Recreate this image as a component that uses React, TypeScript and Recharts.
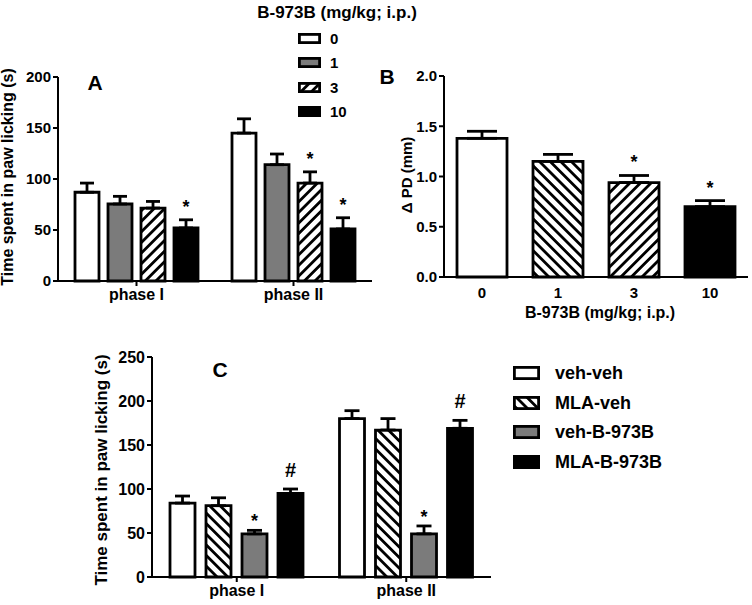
import React from 'react';
import { BarChart, Bar, XAxis, YAxis, ErrorBar, Legend, LabelList, Cell } from 'recharts';

const FONT = '"Liberation Sans", Arial, Helvetica, sans-serif';

// ---------- Panel A ----------
const phasesA = ['phase I', 'phase II'];
const doseNamesA = ['0', '1', '3', '10'];
const a0 = [87, 145];
const a0Err = [9, 14];
const a1 = [75.5, 114];
const a1Err = [7.5, 10.5];
const a3 = [71.5, 96];
const a3Err = [6.5, 11];
const a10 = [52, 51];
const a10Err = [8, 11];
const a3Sig = ['', '*'];
const a10Sig = ['*', '*'];
const ticksA = [0, 50, 100, 150, 200];

// ---------- Panel B ----------
const dosesB = ['0', '1', '3', '10'];
const bVals = [1.38, 1.15, 0.94, 0.7];
const bErr = [0.07, 0.07, 0.07, 0.06];
const bSig = ['', '', '*', '*'];
const ticksB = [0, 0.5, 1, 1.5, 2];

// ---------- Panel C ----------
const phasesC = ['phase I', 'phase II'];
const groupNamesC = ['veh-veh', 'MLA-veh', 'veh-B-973B', 'MLA-B-973B'];
const cVehVeh = [84, 180];
const cVehVehErr = [8, 9];
const cMlaVeh = [81, 167];
const cMlaVehErr = [9, 13];
const cVehB = [49, 49];
const cVehBErr = [4, 9];
const cMlaB = [95, 169];
const cMlaBErr = [5, 9];
const cVehBSig = ['*', '*'];
const cMlaBSig = ['#', '#'];
const ticksC = [0, 50, 100, 150, 200, 250];

const dataA = phasesA.map((p, i) => ({
  phase: p,
  v0: a0[i], e0: [0, a0Err[i]],
  v1: a1[i], e1: [0, a1Err[i]],
  v3: a3[i], e3: [0, a3Err[i]], s3: a3Sig[i],
  v10: a10[i], e10: [0, a10Err[i]], s10: a10Sig[i],
}));

const dataB = dosesB.map((d, i) => ({ dose: d, v: bVals[i], e: [0, bErr[i]], s: bSig[i] }));

const dataC = phasesC.map((p, i) => ({
  phase: p,
  vv: cVehVeh[i], evv: [0, cVehVehErr[i]],
  mv: cMlaVeh[i], emv: [0, cMlaVehErr[i]],
  vb: cVehB[i], evb: [0, cVehBErr[i]], svb: cVehBSig[i],
  mb: cMlaB[i], emb: [0, cMlaBErr[i]], smb: cMlaBSig[i],
}));

const GRAY = '#7b7b7b';
const SW = 2.8;

function sigLabel(rows: any[], valKey: string, errKey: string, sigKey: string, gapStar: number, gapHash: number, fontSize: number) {
  return (props: any) => {
    const vb = props.viewBox && props.viewBox.width !== undefined ? props.viewBox : props;
    const idx = props.index;
    const row = rows[idx];
    if (!row || !row[sigKey]) return null;
    const v = row[valKey];
    const e = row[errKey][1];
    const h = Math.abs(vb.height);
    const top = Math.min(vb.y, vb.y + vb.height);
    const errTop = top - (v ? (e * h) / v : 0);
    const sig = row[sigKey];
    const gap = sig === '#' ? gapHash : gapStar;
    return (
      <text x={vb.x + vb.width / 2} y={errTop - gap} textAnchor="middle" fontFamily={FONT} fontWeight="bold" fontSize={fontSize} fill="#000">
        {sig}
      </text>
    );
  };
}

const Patterns = ({ prefix }: { prefix: string }) => (
  <defs>
    <pattern id={`${prefix}fwd`} patternUnits="userSpaceOnUse" width={7.5} height={7.5} patternTransform="rotate(45)">
      <rect width={7.5} height={7.5} fill="#fff" />
      <rect x={0} y={0} width={2.8} height={7.5} fill="#000" />
    </pattern>
    <pattern id={`${prefix}back`} patternUnits="userSpaceOnUse" width={7.5} height={7.5} patternTransform="rotate(-45)">
      <rect width={7.5} height={7.5} fill="#fff" />
      <rect x={0} y={0} width={2.8} height={7.5} fill="#000" />
    </pattern>
  </defs>
);

const axisLine = { stroke: '#000', strokeWidth: 2 };
const tickLine = { stroke: '#000', strokeWidth: 2 };
const tickStyle = (size: number) => ({ fill: '#000', fontSize: size, fontWeight: 700, fontFamily: FONT });

function makeLegend(order: string[], rowH: number, swW: number, swH: number, textGap: number, fontSize: number) {
  return (props: any) => {
    const payload = [...(props.payload || [])].sort(
      (a: any, b: any) => order.indexOf(String(a.value)) - order.indexOf(String(b.value))
    );
    return (
      <div style={{ fontFamily: FONT, fontWeight: 700, fontSize, color: '#000' }}>
        {payload.map((entry: any, i: number) => (
          <div key={i} style={{ display: 'flex', alignItems: 'center', height: rowH, whiteSpace: 'nowrap' }}>
            <svg width={swW} height={swH} style={{ display: 'block' }}>
              <rect x={1.4} y={1.4} width={swW - 2.8} height={swH - 2.8} fill={entry.color} stroke="#000" strokeWidth={2.8} />
            </svg>
            <span style={{ marginLeft: textGap, lineHeight: 1 }}>{entry.value}</span>
          </div>
        ))}
      </div>
    );
  };
}

const Txt = ({ x, y, size, weight = 700, rotate = false, children }: any) => (
  <div
    style={{
      position: 'absolute',
      left: x,
      top: y,
      transform: `translate(-50%, -50%)${rotate ? ' rotate(-90deg)' : ''}`,
      fontSize: size,
      fontWeight: weight,
      whiteSpace: 'nowrap',
      lineHeight: 1,
      fontFamily: FONT,
      color: '#000',
    }}
  >
    {children}
  </div>
);

const bFills = ['#fff', 'url(#Bback)', 'url(#Bfwd)', '#000'];

export default function App() {
  return (
    <div style={{ position: 'absolute', left: 0, top: 0, width: 752, height: 605, background: '#fff', overflow: 'hidden', fontFamily: FONT }}>
      {/* Panel A */}
      <div style={{ position: 'absolute', left: 0, top: 0 }}>
        <BarChart width={380} height={310} data={dataA} margin={{ top: 77, right: 8, bottom: 9, left: 0 }} barSize={24} barGap={9}>
          <Patterns prefix="A" />
          <XAxis dataKey="phase" height={20} axisLine={axisLine} tickLine={tickLine} tickSize={5} tickMargin={3} tick={tickStyle(16)} />
          <YAxis width={58} domain={[0, 200]} ticks={ticksA} axisLine={axisLine} tickLine={tickLine} tickSize={5} tickMargin={2} tick={tickStyle(15)} />
          <Legend layout="vertical" align="center" verticalAlign="middle" wrapperStyle={{ left: 298, top: 26, width: 80 }} content={makeLegend(doseNamesA, 24.5, 23, 11, 9, 15)} />
          <Bar dataKey="v0" name={doseNamesA[0]} fill="#fff" stroke="#000" strokeWidth={SW} isAnimationActive={false}>
            <ErrorBar dataKey="e0" width={7} stroke="#000" strokeWidth={SW} direction="y" />
          </Bar>
          <Bar dataKey="v1" name={doseNamesA[1]} fill={GRAY} stroke="#000" strokeWidth={SW} isAnimationActive={false}>
            <ErrorBar dataKey="e1" width={7} stroke="#000" strokeWidth={SW} direction="y" />
          </Bar>
          <Bar dataKey="v3" name={doseNamesA[2]} fill="url(#Afwd)" stroke="#000" strokeWidth={SW} isAnimationActive={false}>
            <ErrorBar dataKey="e3" width={7} stroke="#000" strokeWidth={SW} direction="y" />
            <LabelList dataKey="s3" content={sigLabel(dataA, 'v3', 'e3', 's3', 7, 10, 18)} />
          </Bar>
          <Bar dataKey="v10" name={doseNamesA[3]} fill="#000" stroke="#000" strokeWidth={SW} isAnimationActive={false}>
            <ErrorBar dataKey="e10" width={7} stroke="#000" strokeWidth={SW} direction="y" />
            <LabelList dataKey="s10" content={sigLabel(dataA, 'v10', 'e10', 's10', 7, 10, 18)} />
          </Bar>
        </BarChart>
      </div>

      {/* Panel B */}
      <div style={{ position: 'absolute', left: 376, top: 0 }}>
        <BarChart width={376} height={330} data={dataB} margin={{ top: 76, right: 4, bottom: 23, left: 0 }} barSize={50}>
          <Patterns prefix="B" />
          <XAxis dataKey="dose" height={30} axisLine={axisLine} tickLine={false} tickSize={6} tickMargin={4} tick={tickStyle(15)} />
          <YAxis width={68} domain={[0, 2]} ticks={ticksB} tickFormatter={(v: number) => v.toFixed(1)} axisLine={axisLine} tickLine={tickLine} tickSize={5} tickMargin={2} tick={tickStyle(15)} />
          <Bar dataKey="v" stroke="#000" strokeWidth={SW} isAnimationActive={false}>
            {dataB.map((d, i) => (
              <Cell key={d.dose} fill={bFills[i]} />
            ))}
            <ErrorBar dataKey="e" width={15} stroke="#000" strokeWidth={SW} direction="y" />
            <LabelList dataKey="s" content={sigLabel(dataB, 'v', 'e', 's', 7, 10, 18)} />
          </Bar>
        </BarChart>
      </div>

      {/* Panel C */}
      <div style={{ position: 'absolute', left: 0, top: 330 }}>
        <BarChart width={752} height={275} data={dataC} margin={{ top: 27, right: 261, bottom: 3, left: 102 }} barSize={25} barGap={11}>
          <Patterns prefix="C" />
          <XAxis dataKey="phase" height={25} axisLine={axisLine} tickLine={tickLine} tickSize={5} tickMargin={3} tick={tickStyle(16)} />
          <YAxis width={50} domain={[0, 250]} ticks={ticksC} axisLine={axisLine} tickLine={tickLine} tickSize={5} tickMargin={2} tick={tickStyle(16)} />
          <Legend layout="vertical" align="center" verticalAlign="middle" wrapperStyle={{ left: 513, top: 28, width: 180 }} content={makeLegend(groupNamesC, 29.7, 27, 14, 15, 18)} />
          <Bar dataKey="vv" name={groupNamesC[0]} fill="#fff" stroke="#000" strokeWidth={SW} isAnimationActive={false}>
            <ErrorBar dataKey="evv" width={7.5} stroke="#000" strokeWidth={SW} direction="y" />
          </Bar>
          <Bar dataKey="mv" name={groupNamesC[1]} fill="url(#Cback)" stroke="#000" strokeWidth={SW} isAnimationActive={false}>
            <ErrorBar dataKey="emv" width={7.5} stroke="#000" strokeWidth={SW} direction="y" />
          </Bar>
          <Bar dataKey="vb" name={groupNamesC[2]} fill={GRAY} stroke="#000" strokeWidth={SW} isAnimationActive={false}>
            <ErrorBar dataKey="evb" width={7.5} stroke="#000" strokeWidth={SW} direction="y" />
            <LabelList dataKey="svb" content={sigLabel(dataC, 'vb', 'evb', 'svb', 3, 10, 18)} />
          </Bar>
          <Bar dataKey="mb" name={groupNamesC[3]} fill="#000" stroke="#000" strokeWidth={SW} isAnimationActive={false}>
            <ErrorBar dataKey="emb" width={7.5} stroke="#000" strokeWidth={SW} direction="y" />
            <LabelList dataKey="smb" content={sigLabel(dataC, 'mb', 'emb', 'smb', 3, 12, 20)} />
          </Bar>
        </BarChart>
      </div>

      {/* Titles / labels */}
      <Txt x={337} y={12} size={17}>B-973B (mg/kg; i.p.)</Txt>
      <Txt x={95} y={82} size={21}>A</Txt>
      <Txt x={387} y={76} size={21}>B</Txt>
      <Txt x={220} y={369} size={21}>C</Txt>
      <Txt x={8} y={177} size={16} rotate>Time spent in paw licking (s)</Txt>
      <Txt x={406} y={175} size={15} rotate>Δ PD (mm)</Txt>
      <Txt x={600} y={313} size={16}>B-973B (mg/kg; i.p.)</Txt>
      <Txt x={101} y={470} size={17} rotate>Time spent in paw licking (s)</Txt>
    </div>
  );
}
